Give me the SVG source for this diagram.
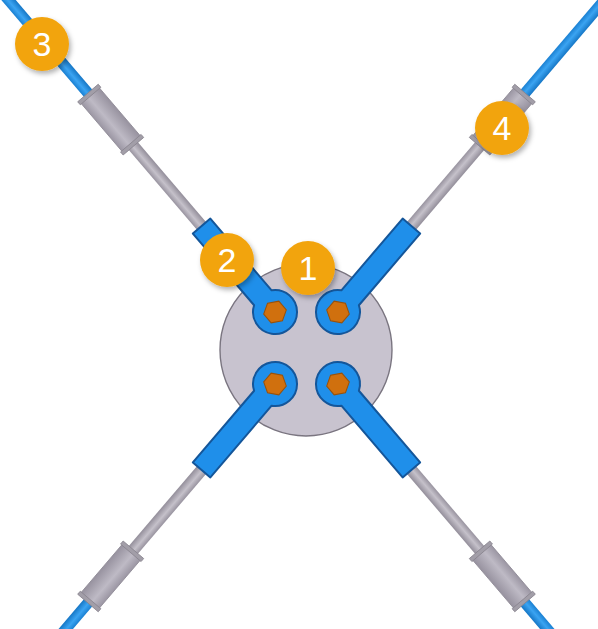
<svg xmlns="http://www.w3.org/2000/svg" xmlns:xlink="http://www.w3.org/1999/xlink" width="598" height="629" viewBox="0 0 598 629">
  <style>
    .cable { fill: url(#cableShade); }
    .rod { fill: url(#rodShade); }
    .sleeve { fill: url(#sleeveShade); stroke: #8d8894; stroke-width: 0.8; }
    .rim { fill: #a29ea8; stroke: #88838e; stroke-width: 0.8; }
    .wrench { fill: #1f8fea; stroke: #14569a; stroke-width: 2; stroke-linejoin: round; }
    .bolt { fill: #d0700e; stroke: #9a5108; stroke-width: 1; }
    .badge circle { fill: #f2a40e; filter: url(#badgeShadow); }
    .badge text { fill: #ffffff; font-family: "Liberation Sans", Arial, sans-serif; font-size: 34px; text-anchor: middle; }
  </style>
  <defs>
    <linearGradient id="cableShade" x1="0" y1="0" x2="0" y2="1">
      <stop offset="0" stop-color="#1a80d2"/>
      <stop offset="0.45" stop-color="#3ba4f2"/>
      <stop offset="1" stop-color="#1677c6"/>
    </linearGradient>
    <linearGradient id="rodShade" x1="0" y1="0" x2="0" y2="1">
      <stop offset="0" stop-color="#98939f"/>
      <stop offset="0.45" stop-color="#c5c1ca"/>
      <stop offset="1" stop-color="#938e9a"/>
    </linearGradient>
    <linearGradient id="sleeveShade" x1="0" y1="0" x2="0" y2="1">
      <stop offset="0" stop-color="#9b96a3"/>
      <stop offset="0.4" stop-color="#bebac5"/>
      <stop offset="1" stop-color="#97929f"/>
    </linearGradient>
    <filter id="badgeShadow" x="-30%" y="-30%" width="170%" height="170%">
      <feDropShadow dx="2" dy="3" stdDeviation="2.5" flood-color="#000000" flood-opacity="0.3"/>
    </filter>
    <!-- one arm, drawn outward along +x from its bolt -->
    <g id="arm">
      <rect class="cable" x="282" y="-5.5" width="180" height="11"/>
      <rect class="rod" x="105" y="-6" width="118" height="12"/>
      <rect class="sleeve" x="220" y="-12" width="66" height="24"/>
      <rect class="rim" x="218" y="-13.5" width="4" height="27"/>
      <rect class="rim" x="284" y="-13.5" width="4" height="27"/>
      <path class="wrench" d="M113,-11.5 L18.7,-11.5 A22,22 0 1 0 18.7,11.5 L113,11.5 Z"/>
      <polygon class="bolt" points="11.5,0 5.75,9.96 -5.75,9.96 -11.5,0 -5.75,-9.96 5.75,-9.96"/>
    </g>
  </defs>

  <rect width="598" height="629" fill="#ffffff"/>

  <!-- hub plate -->
  <g id="hub">
    <circle cx="306" cy="350" r="86" fill="#c8c3cf" stroke="#7a7580" stroke-width="1.4"/>
  </g>

  <!-- four clamped arms -->
  <g id="arm-top-left" transform="translate(275 312) rotate(-130.5)">
    <use xlink:href="#arm"/>
  </g>
  <g id="arm-top-right" transform="translate(338 312) rotate(-49.5)">
    <use xlink:href="#arm"/>
  </g>
  <g id="arm-bottom-left" transform="translate(275 384) rotate(130.5)">
    <use xlink:href="#arm"/>
  </g>
  <g id="arm-bottom-right" transform="translate(338 384) rotate(49.5)">
    <use xlink:href="#arm"/>
  </g>

  <!-- numbered callouts -->
  <g id="badge-1" class="badge">
    <circle cx="308" cy="268" r="27"/>
    <text x="308" y="280">1</text>
  </g>
  <g id="badge-2" class="badge">
    <circle cx="227" cy="260" r="27"/>
    <text x="227" y="272">2</text>
  </g>
  <g id="badge-3" class="badge">
    <circle cx="42" cy="44" r="27"/>
    <text x="42" y="56">3</text>
  </g>
  <g id="badge-4" class="badge">
    <circle cx="502" cy="128" r="27"/>
    <text x="502" y="140">4</text>
  </g>
</svg>
